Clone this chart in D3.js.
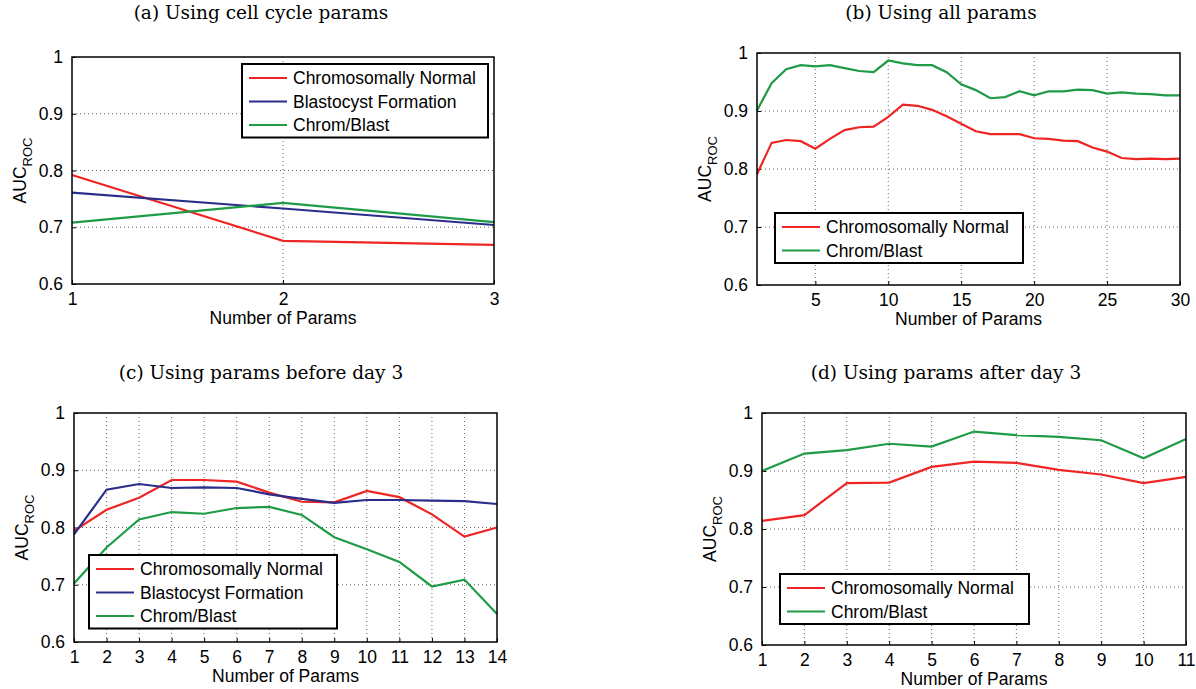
<!DOCTYPE html>
<html>
<head>
<meta charset="utf-8">
<script src="https://cdn.jsdelivr.net/npm/d3@7"></script>
<style>
  body { margin: 0; background: #fff; }
  svg text { fill: #000; }
</style>
</head>
<body>
<svg id="chart" width="1196" height="689"></svg>
<script>
// names of the series
var seriesNames = ["Chromosomally Normal", "Blastocyst Formation", "Chrom/Blast"];
var seriesColors = ["#ee2524", "#2a2e8a", "#1f9b46"];

var yTicks = [0.6, 0.7, 0.8, 0.9, 1];

// (a) cell cycle params
var xA = [1, 2, 3];
var aNormal = [0.792, 0.676, 0.669];
var aBlast = [0.761, 0.733, 0.704];
var aChrom = [0.708, 0.743, 0.709];

// (b) all params
var xB = d3.range(1, 31);
var xTicksB = [5, 10, 15, 20, 25, 30];
var bNormal = [0.791, 0.845, 0.850, 0.848, 0.835, 0.852, 0.867, 0.872, 0.873, 0.890,
               0.911, 0.909, 0.902, 0.891, 0.878, 0.865, 0.860, 0.860, 0.860, 0.853,
               0.852, 0.849, 0.848, 0.837, 0.830, 0.819, 0.817, 0.818, 0.817, 0.818];
var bChrom = [0.901, 0.948, 0.972, 0.979, 0.977, 0.979, 0.974, 0.969, 0.967, 0.987,
              0.982, 0.979, 0.979, 0.967, 0.946, 0.936, 0.922, 0.924, 0.934, 0.927,
              0.934, 0.934, 0.937, 0.936, 0.930, 0.932, 0.930, 0.929, 0.927, 0.927];

// (c) params before day 3
var xC = d3.range(1, 15);
var cNormal = [0.794, 0.831, 0.852, 0.883, 0.883, 0.880, 0.861, 0.845, 0.844, 0.864, 0.853, 0.823, 0.784, 0.800];
var cBlast = [0.788, 0.866, 0.876, 0.869, 0.870, 0.869, 0.858, 0.850, 0.843, 0.848, 0.848, 0.847, 0.846, 0.841];
var cChrom = [0.702, 0.765, 0.814, 0.827, 0.824, 0.834, 0.836, 0.822, 0.783, 0.762, 0.740, 0.697, 0.709, 0.649];

// (d) params after day 3
var xD = d3.range(1, 12);
var dNormal = [0.814, 0.824, 0.879, 0.880, 0.907, 0.916, 0.914, 0.902, 0.894, 0.879, 0.890];
var dChrom = [0.900, 0.930, 0.936, 0.947, 0.942, 0.968, 0.962, 0.959, 0.953, 0.922, 0.955];

var panels = [
  { title: "(a) Using cell cycle params", tx: 261, ty: 19,
    left: 72, right: 494, top: 57, bottom: 284,
    x: xA, xTicks: xA, series: [[0, aNormal], [1, aBlast], [2, aChrom]],
    legend: { x: 242, y: 64, w: 246 } },
  { title: "(b) Using all params", tx: 941, ty: 19,
    left: 757, right: 1180, top: 53, bottom: 285,
    x: xB, xTicks: xTicksB, series: [[0, bNormal], [2, bChrom]],
    legend: { x: 775, y: 213, w: 248 } },
  { title: "(c) Using params before day 3", tx: 261, ty: 379,
    left: 74, right: 497, top: 413, bottom: 642,
    x: xC, xTicks: xC, series: [[0, cNormal], [1, cBlast], [2, cChrom]],
    legend: { x: 89, y: 555, w: 248 } },
  { title: "(d) Using params after day 3", tx: 946, ty: 379,
    left: 762, right: 1186, top: 413, bottom: 645,
    x: xD, xTicks: xD, series: [[0, dNormal], [2, dChrom]],
    legend: { x: 780, y: 574, w: 249 } }
];

var svg = d3.select("#chart");
var sans = "Liberation Sans, Arial, sans-serif";

panels.forEach(function(p) {
  var x = d3.scaleLinear().domain(d3.extent(p.x)).range([p.left, p.right]);
  var y = d3.scaleLinear().domain([0.6, 1]).range([p.bottom, p.top]);
  var g = svg.append("g");

  g.append("text")
    .attr("x", p.tx).attr("y", p.ty)
    .attr("text-anchor", "middle")
    .style("font-family", "DejaVu Serif, serif")
    .style("font-size", "18.5px")
    .text(p.title);

  // dotted grid
  g.selectAll(".gy").data(yTicks.slice(1, -1)).enter().append("line")
    .attr("x1", p.left).attr("x2", p.right)
    .attr("y1", y).attr("y2", y)
    .attr("stroke", "#666").attr("stroke-dasharray", "1,3");
  g.selectAll(".gx").data(p.xTicks.filter(function(t) { return t > x.domain()[0] && t < x.domain()[1]; }))
    .enter().append("line")
    .attr("y1", p.top).attr("y2", p.bottom)
    .attr("x1", x).attr("x2", x)
    .attr("stroke", "#666").attr("stroke-dasharray", "1,3");

  // axes, ticks inward like matlab
  var yAxis = d3.axisLeft(y).tickValues(yTicks).tickSize(-4).tickPadding(9)
    .tickFormat(function(d) { return d === 1 ? "1" : d3.format(".1f")(d); });
  var xAxis = d3.axisBottom(x).tickValues(p.xTicks).tickSize(-4).tickPadding(9)
    .tickFormat(d3.format("d"));

  var ya = g.append("g").attr("transform", "translate(" + p.left + ",0)").call(yAxis);
  var xa = g.append("g").attr("transform", "translate(0," + p.bottom + ")").call(xAxis);
  [ya, xa].forEach(function(a) {
    a.select(".domain").remove();
    a.selectAll("text").style("font-family", sans).style("font-size", "17.5px").attr("fill", "#000");
    a.selectAll("line").attr("stroke", "#000");
  });

  // series
  var line = d3.line()
    .x(function(d, i) { return x(p.x[i]); })
    .y(function(d) { return y(d); });
  p.series.forEach(function(s) {
    g.append("path")
      .datum(s[1])
      .attr("fill", "none")
      .attr("stroke", seriesColors[s[0]])
      .attr("stroke-width", 2.2)
      .attr("d", line);
  });

  g.append("rect")
    .attr("x", p.left).attr("y", p.top)
    .attr("width", p.right - p.left).attr("height", p.bottom - p.top)
    .attr("fill", "none").attr("stroke", "#000").attr("stroke-width", 1.5);

  // axis labels
  g.append("text")
    .attr("x", (p.left + p.right) / 2).attr("y", p.bottom + 40)
    .attr("text-anchor", "middle")
    .style("font-family", sans).style("font-size", "17.5px")
    .text("Number of Params");

  var yl = g.append("text")
    .attr("transform", "translate(" + (p.left - 46) + "," + ((p.top + p.bottom) / 2) + ") rotate(-90)")
    .attr("text-anchor", "middle")
    .style("font-family", sans).style("font-size", "17.5px");
  yl.append("tspan").text("AUC");
  yl.append("tspan").attr("dy", 6).style("font-size", "13px").text("ROC");

  // legend
  var lg = p.legend, rowH = 23.5;
  var leg = g.append("g");
  leg.append("rect")
    .attr("x", lg.x).attr("y", lg.y)
    .attr("width", lg.w).attr("height", p.series.length * rowH + 3)
    .attr("fill", "#fff").attr("stroke", "#000").attr("stroke-width", 2);
  var rows = leg.selectAll(".row").data(p.series).enter().append("g")
    .attr("transform", function(d, i) { return "translate(" + lg.x + "," + (lg.y + 14 + i * rowH) + ")"; });
  rows.append("line")
    .attr("x1", 7).attr("x2", 45)
    .attr("stroke", function(d) { return seriesColors[d[0]]; })
    .attr("stroke-width", 2.2);
  rows.append("text")
    .attr("x", 51).attr("dy", "0.35em")
    .style("font-family", sans).style("font-size", "17.5px")
    .text(function(d) { return seriesNames[d[0]]; });
});
</script>
</body>
</html>
